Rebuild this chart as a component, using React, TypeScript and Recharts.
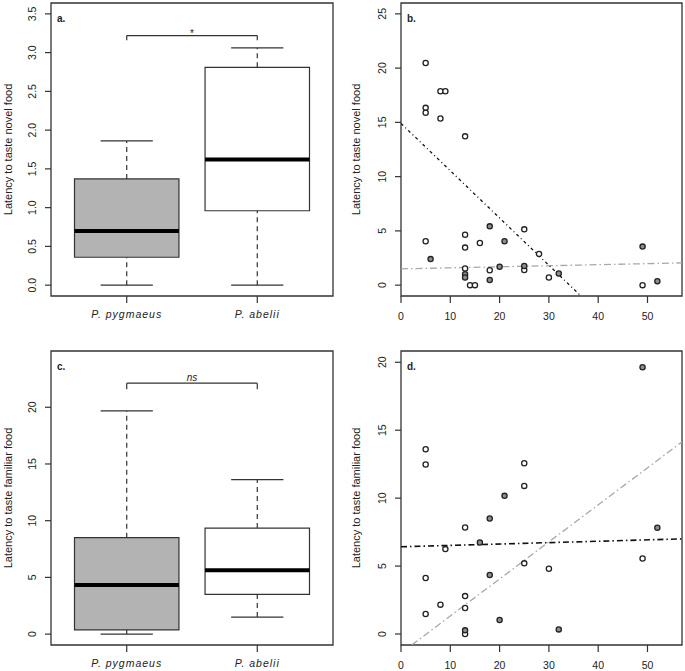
import React from "react";
import {
  ComposedChart,
  Scatter,
  XAxis,
  YAxis,
  ReferenceArea,
  ReferenceLine,
  ReferenceDot,
  Label,
} from "recharts";

const FONT = '"Liberation Sans", Arial, Helvetica, sans-serif';
const INK = "#222222";
const LINE = "#333333";
const BOX_GRAY = "#b3b3b3";
const POINT_GRAY = "#8e8e8e";
const FIT_GRAY = "#a8a8a8";

// Box plots (order: P. pygmaeus, P. abelii)
const SPECIES = ["P. pygmaeus", "P. abelii"];
const SPECIES_POS = [1, 2];

const NOVEL_MIN = [0, 0];
const NOVEL_Q1 = [0.36, 0.96];
const NOVEL_MEDIAN = [0.7, 1.62];
const NOVEL_Q3 = [1.37, 2.81];
const NOVEL_MAX = [1.86, 3.06];
const NOVEL_BRACKET = [3.22, 3.16];
const NOVEL_SIG = "*";
const NOVEL_Y_TICKS = [0, 0.5, 1, 1.5, 2, 2.5, 3, 3.5];

const FAMILIAR_MIN = [0, 1.5];
const FAMILIAR_Q1 = [0.38, 3.5];
const FAMILIAR_MEDIAN = [4.32, 5.62];
const FAMILIAR_Q3 = [8.5, 9.35];
const FAMILIAR_MAX = [19.68, 13.62];
const FAMILIAR_BRACKET = [22.12, 21.59];
const FAMILIAR_SIG = "ns";
const FAMILIAR_Y_TICKS = [0, 5, 10, 15, 20];

// Scatter panels (open = P. abelii, filled = P. pygmaeus)
const X_TICKS = [0, 10, 20, 30, 40, 50];

const NOVEL_ABELII_X = [5, 8, 9, 5, 5, 8, 13, 25, 13, 5, 16, 13, 28, 13, 25, 18, 30, 14, 15, 49];
const NOVEL_ABELII_Y = [20.47, 17.87, 17.87, 16.34, 15.88, 15.36, 13.71, 5.14, 4.65, 4.04, 3.89, 3.46, 2.88, 1.53, 1.4, 1.37, 0.7, 0, 0, 0];
const NOVEL_PYG_X = [18, 21, 49, 6, 20, 25, 13, 13, 32, 18, 52];
const NOVEL_PYG_Y = [5.42, 4.05, 3.55, 2.4, 1.7, 1.77, 1.0, 0.7, 1.07, 0.48, 0.37];
const NOVEL_FIT_ABELII = [[0, 14.9], [36.5, -1]];
const NOVEL_FIT_PYG = [[0, 1.5], [57, 2.05]];
const NOVEL_SCATTER_TICKS = [0, 5, 10, 15, 20, 25];

const FAMILIAR_ABELII_X = [5, 5, 25, 25, 13, 9, 49, 25, 30, 5, 13, 8, 13, 5, 13];
const FAMILIAR_ABELII_Y = [13.6, 12.48, 12.57, 10.9, 7.84, 6.25, 5.56, 5.2, 4.8, 4.12, 2.79, 2.16, 1.91, 1.47, 0];
const FAMILIAR_PYG_X = [49, 21, 18, 52, 16, 18, 20, 32, 13];
const FAMILIAR_PYG_Y = [19.63, 10.17, 8.5, 7.82, 6.74, 4.34, 1.03, 0.34, 0.27];
const FAMILIAR_FIT_ABELII = [[0, 6.42], [57, 7.0]];
const FAMILIAR_FIT_PYG = [[2.2, -0.8], [57, 14.14]];
const FAMILIAR_SCATTER_TICKS = [0, 5, 10, 15, 20];

const BOX_FILLS = [BOX_GRAY, "#ffffff"];

type Pt = { x: number; y: number };
const toPts = (xs: number[], ys: number[]): Pt[] => xs.map((x, i) => ({ x, y: ys[i] }));

function YTick(props: any) {
  const { x, y, payload, decimals } = props;
  return (
    <text
      transform={`translate(${x - 9},${y}) rotate(-90)`}
      textAnchor="middle"
      fontSize={10.5}
      fill={INK}
      fontFamily={FONT}
    >
      {Number(payload.value).toFixed(decimals)}
    </text>
  );
}

function XTick(props: any) {
  const { x, y, payload, dy, italic, labels } = props;
  const v = payload.value;
  const text = labels ? labels[SPECIES_POS.indexOf(v)] : String(v);
  return (
    <text
      x={x}
      y={y + dy}
      textAnchor="middle"
      fontSize={italic ? 10.5 : 10.5}
      fontStyle={italic ? "italic" : "normal"}
      letterSpacing={italic ? 1 : 0}
      fill={INK}
      fontFamily={FONT}
    >
      {text}
    </text>
  );
}

const yTitle = (text: string, gap: number) => (props: any) => {
  const vb = props.viewBox;
  const cx = vb.x + vb.width - gap;
  const cy = vb.y + vb.height / 2;
  return (
    <text
      transform={`translate(${cx},${cy}) rotate(-90)`}
      textAnchor="middle"
      fontSize={11}
      fill={INK}
      fontFamily={FONT}
    >
      {text}
    </text>
  );
};

const letterShape = (letter: string) => (p: any) => (
  <text x={p.cx + 6} y={p.cy + 19} fontSize={10} fontWeight="bold" fill={INK} fontFamily={FONT}>
    {letter}
  </text>
);

type BoxProps = {
  letter: string;
  yLabel: string;
  min: number[];
  q1: number[];
  median: number[];
  q3: number[];
  max: number[];
  bracket: number[];
  sig: string;
  yDomain: [number, number];
  yTicks: number[];
  decimals: number;
  height: number;
  marginTop: number;
  xAxisHeight: number;
};

function BoxPanel(p: BoxProps) {
  const xDomain: [number, number] = [0.42, 2.58];
  const half = 0.4;
  const cap = 0.2;
  const rows = SPECIES_POS.map((pos, i) => ({ pos, y: p.median[i] }));
  return (
    <ComposedChart
      width={342}
      height={p.height}
      data={rows}
      margin={{ top: p.marginTop, right: 9, bottom: 0, left: 0 }}
    >
      <XAxis
        dataKey="pos"
        type="number"
        domain={xDomain}
        allowDataOverflow
        ticks={SPECIES_POS}
        axisLine={false}
        tickLine={{ stroke: LINE, strokeWidth: 1.2 }}
        tickSize={7}
        tickMargin={0}
        height={p.xAxisHeight}
        tick={(t: any) => <XTick {...t} dy={15} italic labels={SPECIES} />}
      />
      <YAxis
        type="number"
        domain={p.yDomain}
        allowDataOverflow
        ticks={p.yTicks}
        axisLine={false}
        tickLine={{ stroke: LINE, strokeWidth: 1.2 }}
        tickSize={6}
        tickMargin={0}
        width={51}
        tick={(t: any) => <YTick {...t} decimals={p.decimals} />}
      >
        <Label content={yTitle(p.yLabel, 39)} />
      </YAxis>
      {SPECIES_POS.map((pos, i) => (
        <ReferenceLine
          key={`wl${i}`}
          segment={[{ x: pos, y: p.min[i] }, { x: pos, y: p.q1[i] }]}
          stroke={LINE}
          strokeWidth={1.2}
          strokeDasharray="5 4"
          ifOverflow="visible"
        />
      ))}
      {SPECIES_POS.map((pos, i) => (
        <ReferenceLine
          key={`wu${i}`}
          segment={[{ x: pos, y: p.q3[i] }, { x: pos, y: p.max[i] }]}
          stroke={LINE}
          strokeWidth={1.2}
          strokeDasharray="5 4"
          ifOverflow="visible"
        />
      ))}
      {SPECIES_POS.map((pos, i) => (
        <ReferenceLine
          key={`cl${i}`}
          segment={[{ x: pos - cap, y: p.min[i] }, { x: pos + cap, y: p.min[i] }]}
          stroke={LINE}
          strokeWidth={1.2}
          ifOverflow="visible"
        />
      ))}
      {SPECIES_POS.map((pos, i) => (
        <ReferenceLine
          key={`cu${i}`}
          segment={[{ x: pos - cap, y: p.max[i] }, { x: pos + cap, y: p.max[i] }]}
          stroke={LINE}
          strokeWidth={1.2}
          ifOverflow="visible"
        />
      ))}
      {SPECIES_POS.map((pos, i) => (
        <ReferenceArea
          key={`b${i}`}
          x1={pos - half}
          x2={pos + half}
          y1={p.q1[i]}
          y2={p.q3[i]}
          fill={BOX_FILLS[i]}
          fillOpacity={1}
          stroke={LINE}
          strokeWidth={1.2}
          ifOverflow="visible"
        />
      ))}
      {SPECIES_POS.map((pos, i) => (
        <ReferenceLine
          key={`m${i}`}
          segment={[{ x: pos - half, y: p.median[i] }, { x: pos + half, y: p.median[i] }]}
          stroke="#000000"
          strokeWidth={4}
          ifOverflow="visible"
        />
      ))}
      {/* significance bracket */}
      <ReferenceLine
        segment={[{ x: SPECIES_POS[0], y: p.bracket[0] }, { x: SPECIES_POS[1], y: p.bracket[0] }]}
        stroke={LINE}
        strokeWidth={1.2}
        ifOverflow="visible"
      />
      {SPECIES_POS.map((pos, i) => (
        <ReferenceLine
          key={`br${i}`}
          segment={[{ x: pos, y: p.bracket[0] }, { x: pos, y: p.bracket[1] }]}
          stroke={LINE}
          strokeWidth={1.2}
          ifOverflow="visible"
        />
      ))}
      <ReferenceDot
        x={(SPECIES_POS[0] + SPECIES_POS[1]) / 2}
        y={p.bracket[0]}
        r={0}
        ifOverflow="visible"
        shape={(s: any) => (
          <text
            x={s.cx}
            y={s.cy - (p.sig === "*" ? -1 : 2.5)}
            textAnchor="middle"
            fontSize={10}
            fontStyle={p.sig === "*" ? "normal" : "italic"}
            fill={INK}
            fontFamily={FONT}
          >
            {p.sig}
          </text>
        )}
      />
      <ReferenceArea
        x1={xDomain[0]}
        x2={xDomain[1]}
        y1={p.yDomain[0]}
        y2={p.yDomain[1]}
        fill="none"
        stroke={LINE}
        strokeWidth={1.3}
        ifOverflow="visible"
      />
      <ReferenceDot
        x={xDomain[0]}
        y={p.yDomain[1]}
        r={0}
        ifOverflow="visible"
        shape={letterShape(p.letter)}
      />
    </ComposedChart>
  );
}

type ScatterProps = {
  letter: string;
  yLabel: string;
  abelii: Pt[];
  pygmaeus: Pt[];
  fitAbelii: number[][];
  fitPyg: number[][];
  yDomain: [number, number];
  yTicks: number[];
  height: number;
  marginTop: number;
  xAxisHeight: number;
  abeliiDash: string;
  abeliiWidth: number;
};

function ScatterPanel(p: ScatterProps) {
  const xDomain: [number, number] = [0, 57];
  const dot = (fill: string) => (s: any) => (
    <circle cx={s.cx} cy={s.cy} r={2.6} fill={fill} stroke={INK} strokeWidth={1.3} />
  );
  return (
    <ComposedChart
      width={343}
      height={p.height}
      margin={{ top: p.marginTop, right: 3, bottom: 0, left: 0 }}
    >
      <XAxis
        dataKey="x"
        type="number"
        domain={xDomain}
        allowDataOverflow
        ticks={X_TICKS}
        axisLine={false}
        tickLine={{ stroke: LINE, strokeWidth: 1.2 }}
        tickSize={7}
        tickMargin={0}
        height={p.xAxisHeight}
        tick={(t: any) => <XTick {...t} dy={16.5} />}
      />
      <YAxis
        dataKey="y"
        type="number"
        domain={p.yDomain}
        allowDataOverflow
        ticks={p.yTicks}
        axisLine={false}
        tickLine={{ stroke: LINE, strokeWidth: 1.2 }}
        tickSize={6}
        tickMargin={0}
        width={59}
        tick={(t: any) => <YTick {...t} decimals={0} />}
      >
        <Label content={yTitle(p.yLabel, 41)} />
      </YAxis>
      <ReferenceLine
        segment={[{ x: p.fitPyg[0][0], y: p.fitPyg[0][1] }, { x: p.fitPyg[1][0], y: p.fitPyg[1][1] }]}
        stroke={FIT_GRAY}
        strokeWidth={1.3}
        strokeDasharray="7 3 1.5 3"
        ifOverflow="hidden"
      />
      <ReferenceLine
        segment={[{ x: p.fitAbelii[0][0], y: p.fitAbelii[0][1] }, { x: p.fitAbelii[1][0], y: p.fitAbelii[1][1] }]}
        stroke="#111111"
        strokeWidth={p.abeliiWidth}
        strokeDasharray={p.abeliiDash}
        ifOverflow="hidden"
      />
      <Scatter data={p.abelii} dataKey="y" shape={dot("#ffffff")} isAnimationActive={false} />
      <Scatter data={p.pygmaeus} dataKey="y" shape={dot(POINT_GRAY)} isAnimationActive={false} />
      <ReferenceArea
        x1={xDomain[0]}
        x2={xDomain[1]}
        y1={p.yDomain[0]}
        y2={p.yDomain[1]}
        fill="none"
        stroke={LINE}
        strokeWidth={1.3}
        ifOverflow="visible"
      />
      <ReferenceDot
        x={xDomain[0]}
        y={p.yDomain[1]}
        r={0}
        ifOverflow="visible"
        shape={letterShape(p.letter)}
      />
    </ComposedChart>
  );
}

export default function App() {
  return (
    <div
      style={{
        position: "absolute",
        left: 0,
        top: 0,
        width: 685,
        height: 671,
        background: "#ffffff",
        fontFamily: FONT,
      }}
    >
      <div style={{ position: "absolute", left: 0, top: 0 }}>
        <BoxPanel
          letter="a."
          yLabel="Latency to taste novel food"
          min={NOVEL_MIN}
          q1={NOVEL_Q1}
          median={NOVEL_MEDIAN}
          q3={NOVEL_Q3}
          max={NOVEL_MAX}
          bracket={NOVEL_BRACKET}
          sig={NOVEL_SIG}
          yDomain={[-0.14, 3.64]}
          yTicks={NOVEL_Y_TICKS}
          decimals={1}
          height={330}
          marginTop={3}
          xAxisHeight={34}
        />
      </div>
      <div style={{ position: "absolute", left: 342, top: 0 }}>
        <ScatterPanel
          letter="b."
          yLabel="Latency to taste novel food"
          abelii={toPts(NOVEL_ABELII_X, NOVEL_ABELII_Y)}
          pygmaeus={toPts(NOVEL_PYG_X, NOVEL_PYG_Y)}
          fitAbelii={NOVEL_FIT_ABELII}
          fitPyg={NOVEL_FIT_PYG}
          yDomain={[-1, 26]}
          yTicks={NOVEL_SCATTER_TICKS}
          height={330}
          marginTop={3}
          xAxisHeight={34}
          abeliiDash="3 3 1 3"
          abeliiWidth={1.3}
        />
      </div>
      <div style={{ position: "absolute", left: 0, top: 330 }}>
        <BoxPanel
          letter="c."
          yLabel="Latency to taste familiar food"
          min={FAMILIAR_MIN}
          q1={FAMILIAR_Q1}
          median={FAMILIAR_MEDIAN}
          q3={FAMILIAR_Q3}
          max={FAMILIAR_MAX}
          bracket={FAMILIAR_BRACKET}
          sig={FAMILIAR_SIG}
          yDomain={[-0.96, 24.96]}
          yTicks={FAMILIAR_Y_TICKS}
          decimals={0}
          height={341}
          marginTop={21}
          xAxisHeight={26}
        />
      </div>
      <div style={{ position: "absolute", left: 342, top: 330 }}>
        <ScatterPanel
          letter="d."
          yLabel="Latency to taste familiar food"
          abelii={toPts(FAMILIAR_ABELII_X, FAMILIAR_ABELII_Y)}
          pygmaeus={toPts(FAMILIAR_PYG_X, FAMILIAR_PYG_Y)}
          fitAbelii={FAMILIAR_FIT_ABELII}
          fitPyg={FAMILIAR_FIT_PYG}
          yDomain={[-0.81, 20.83]}
          yTicks={FAMILIAR_SCATTER_TICKS}
          height={341}
          marginTop={21}
          xAxisHeight={26}
          abeliiDash="6 3 1.5 3"
          abeliiWidth={1.6}
        />
      </div>
    </div>
  );
}
